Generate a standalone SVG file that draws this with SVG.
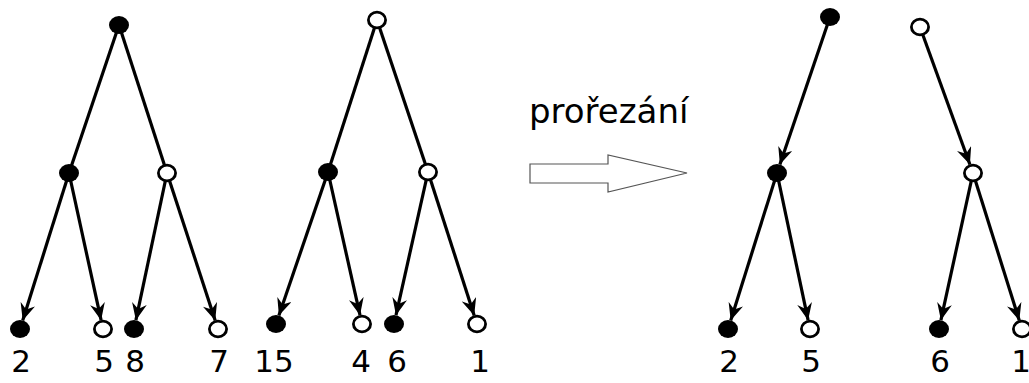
<svg xmlns="http://www.w3.org/2000/svg" width="1029" height="383" viewBox="0 0 1029 383">
  <style>
    .edge { stroke: #000; stroke-width: 3.2; fill: none; }
    .arr { marker-end: url(#head); }
    .full { fill: #000; }
    .empty { fill: #fff; stroke: #000; stroke-width: 2.8; }
    .lbl { font-family: "DejaVu Sans", Verdana, sans-serif; font-size: 31px; fill: #000; text-anchor: middle; }
    .cap { font-family: "DejaVu Sans", Verdana, sans-serif; font-size: 34px; fill: #000; }
  </style>
  <defs>
    <marker id="head" viewBox="0 0 17 15" refX="17" refY="7.5" markerWidth="17" markerHeight="15" markerUnits="userSpaceOnUse" orient="auto">
      <path d="M0,0 L17,7.5 L0,15 L5.5,7.5 z" fill="#000"/>
    </marker>
  </defs>
  <rect width="1029" height="383" fill="#fff"/>

  <!-- connectors -->
  <g id="edges">
    <!-- tree A -->
    <line class="edge" x1="119" y1="25" x2="69" y2="173"/>
    <line class="edge" x1="119" y1="25" x2="167" y2="173"/>
    <line class="edge arr" x1="69" y1="173" x2="22.7" y2="320.4"/>
    <line class="edge arr" x1="69" y1="173" x2="101.1" y2="320.2"/>
    <line class="edge arr" x1="167" y1="173" x2="135.9" y2="320.2"/>
    <line class="edge arr" x1="167" y1="173" x2="215.2" y2="320.4"/>
    <!-- tree B -->
    <line class="edge" x1="377" y1="20" x2="328" y2="172"/>
    <line class="edge" x1="377" y1="20" x2="428" y2="172"/>
    <line class="edge arr" x1="328" y1="172" x2="278.9" y2="315.5"/>
    <line class="edge arr" x1="328" y1="172" x2="360" y2="315.2"/>
    <line class="edge arr" x1="428" y1="172" x2="396" y2="315.2"/>
    <line class="edge arr" x1="428" y1="172" x2="474.2" y2="315.4"/>
    <!-- pruned tree C -->
    <line class="edge arr" x1="830" y1="17" x2="779.9" y2="164.5"/>
    <line class="edge arr" x1="777" y1="173" x2="730.7" y2="320.4"/>
    <line class="edge arr" x1="777" y1="173" x2="808.1" y2="320.2"/>
    <!-- pruned tree D -->
    <line class="edge arr" x1="920" y1="27" x2="969.9" y2="164.5"/>
    <line class="edge arr" x1="973" y1="173" x2="940.9" y2="320.2"/>
    <line class="edge arr" x1="973" y1="173" x2="1019.3" y2="320.4"/>
  </g>

  <!-- tree A nodes -->
  <g id="a-root"><ellipse class="full" cx="119" cy="25" rx="10" ry="9"/></g>
  <g id="a-l"><ellipse class="full" cx="69" cy="173" rx="10" ry="9"/></g>
  <g id="a-r"><ellipse class="empty" cx="167" cy="173" rx="8.6" ry="7.8"/></g>
  <g id="a-ll"><ellipse class="full" cx="20" cy="329" rx="10" ry="9"/><text class="lbl" x="21" y="372">2</text></g>
  <g id="a-lr"><ellipse class="empty" cx="103" cy="329" rx="8.6" ry="7.8"/><text class="lbl" x="104" y="372">5</text></g>
  <g id="a-rl"><ellipse class="full" cx="134" cy="329" rx="10" ry="9"/><text class="lbl" x="135" y="372">8</text></g>
  <g id="a-rr"><ellipse class="empty" cx="218" cy="329" rx="8.6" ry="7.8"/><text class="lbl" x="219" y="372">7</text></g>

  <!-- tree B nodes -->
  <g id="b-root"><ellipse class="empty" cx="377" cy="20" rx="8.6" ry="7.8"/></g>
  <g id="b-l"><ellipse class="full" cx="328" cy="172" rx="10" ry="9"/></g>
  <g id="b-r"><ellipse class="empty" cx="428" cy="172" rx="8.6" ry="7.8"/></g>
  <g id="b-ll"><ellipse class="full" cx="276" cy="324" rx="10" ry="9"/><text class="lbl" x="274" y="372">15</text></g>
  <g id="b-lr"><ellipse class="empty" cx="362" cy="324" rx="8.6" ry="7.8"/><text class="lbl" x="361" y="372">4</text></g>
  <g id="b-rl"><ellipse class="full" cx="394" cy="324" rx="10" ry="9"/><text class="lbl" x="397" y="372">6</text></g>
  <g id="b-rr"><ellipse class="empty" cx="477" cy="324" rx="8.6" ry="7.8"/><text class="lbl" x="480" y="372">1</text></g>

  <!-- pruning step -->
  <g id="step">
    <text class="cap" x="529" y="123">prořezání</text>
    <path d="M530,164 H608 V155 L687,173 L608,192 V183 H530 Z" fill="#fff" stroke="#555" stroke-width="1.2"/>
  </g>

  <!-- tree C nodes -->
  <g id="c-root"><ellipse class="full" cx="830" cy="17" rx="10" ry="9"/></g>
  <g id="c-m"><ellipse class="full" cx="777" cy="173" rx="10" ry="9"/></g>
  <g id="c-l"><ellipse class="full" cx="728" cy="329" rx="10" ry="9"/><text class="lbl" x="729" y="372">2</text></g>
  <g id="c-r"><ellipse class="empty" cx="810" cy="329" rx="8.6" ry="7.8"/><text class="lbl" x="811" y="372">5</text></g>

  <!-- tree D nodes -->
  <g id="d-root"><ellipse class="empty" cx="920" cy="27" rx="8.6" ry="7.8"/></g>
  <g id="d-m"><ellipse class="empty" cx="973" cy="173" rx="8.6" ry="7.8"/></g>
  <g id="d-l"><ellipse class="full" cx="939" cy="329" rx="10" ry="9"/><text class="lbl" x="940" y="372">6</text></g>
  <g id="d-r"><ellipse class="empty" cx="1022" cy="329" rx="8.6" ry="7.8"/><text class="lbl" x="1021" y="372">1</text></g>
</svg>
